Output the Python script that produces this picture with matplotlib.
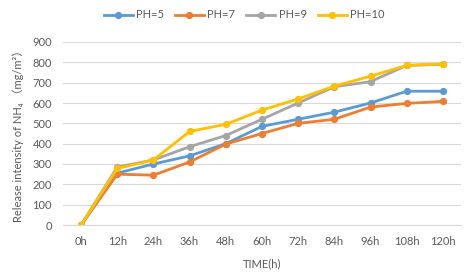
import matplotlib
matplotlib.use("Agg")
import matplotlib.pyplot as plt

categories = ["0h", "12h", "24h", "36h", "48h", "60h", "72h", "84h", "96h", "108h", "120h"]
ph5 = [0, 255, 300, 340, 400, 485, 520, 555, 600, 658, 658]
ph7 = [0, 250, 245, 310, 398, 450, 500, 520, 580, 598, 608]
ph9 = [0, 285, 320, 385, 440, 520, 600, 680, 705, 785, 790]
ph10 = [0, 278, 320, 460, 495, 565, 620, 683, 732, 785, 792]
series_names = ["PH=5", "PH=7", "PH=9", "PH=10"]
colors = ["#5B9BD5", "#ED7D31", "#A5A5A5", "#FFC000"]
yticks = [0, 100, 200, 300, 400, 500, 600, 700, 800, 900]

plt.rcParams['font.family'] = ['Lato', 'DejaVu Sans', 'Noto Sans CJK SC']
txt = "#595959"
fs = 8

fig = plt.figure(figsize=(4.65, 2.74), dpi=100)
ax = fig.add_axes([63/465, 1-225/274, (461-63)/465, (225-42)/274])

x = list(range(len(categories)))
for name, vals, c in zip(series_names, [ph5, ph7, ph9, ph10], colors):
    ax.plot(x, vals, color=c, lw=2, marker='o', ms=4.2, label=name, solid_joinstyle='round')

ax.set_xlim(-0.5, len(categories) - 0.5)
ax.set_ylim(0, 900)
ax.set_yticks(yticks)
ax.set_xticks(x)
ax.set_xticklabels(categories)
ax.grid(axis='y', color='#D9D9D9', lw=0.8)
ax.set_axisbelow(True)
for s in ['top', 'right', 'left']:
    ax.spines[s].set_visible(False)
ax.spines['bottom'].set_color('#D9D9D9')
ax.tick_params(axis='both', length=0, colors=txt, labelsize=fs)
ax.tick_params(axis='x', pad=8)
ax.tick_params(axis='y', pad=8)
ax.set_xlabel("TIME(h)", color=txt, fontsize=fs, labelpad=8)
ax.set_ylabel("Release intensity of NH₄ （mg/m²）", color=txt, fontsize=fs, labelpad=6)

ax.legend(loc='center', bbox_to_anchor=(0.5 - 0.045, 1 + 27/183), ncol=4, frameon=False,
          fontsize=fs, labelcolor=txt, handlelength=2.6, columnspacing=1.0, handletextpad=0.3)

fig.savefig("out.png", dpi=100)
